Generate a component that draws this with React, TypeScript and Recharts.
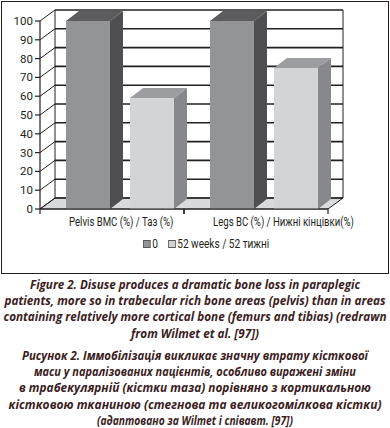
import { BarChart, Bar, XAxis, YAxis, CartesianGrid, Legend } from "recharts";

const categories = ["Pelvis BMC (%) / Таз (%)", "Legs BC (%) / Нижні кінцівки(%)"];
const baseline = [100, 100];
const week52 = [59, 75];
const yTicks = [0, 10, 20, 30, 40, 50, 60, 70, 80, 90, 100];
const seriesNames = ["0", "52 weeks / 52 тижні"];

const data = categories.map((name, i) => ({ name, base: baseline[i], w52: week52[i] }));

const FONT = "Roboto, 'Liberation Sans', Arial, sans-serif";
const CAPTION_FONT = "'Open Sans', Roboto, sans-serif";
const INK = "#231f20";

// depth of the bars and of the walls
const DX = 13;
const DY = 10;
const WX = 15;
const WY = 11;
const SHIFT = 8;

const CHART_W = 390;
const MARGIN = { top: 21, right: 62, bottom: 22, left: 0 };
const Y_W = 40;
const PLOT_W = CHART_W - MARGIN.left - MARGIN.right - Y_W;

const COLORS = {
  base: { front: "#939497", side: "#4f4f51", top: "#5c5c5f" },
  w52: { front: "#d3d4d6", side: "#87888b", top: "#9c9da0" },
};

// caption lines with the width each one fills
const captionEn = [
  { t: "Figure 2. Disuse produces a dramatic bone loss in paraplegic", w: 330 },
  { t: "patients, more so in trabecular rich bone areas (pelvis) than in areas", w: 381 },
  { t: "containing relatively more cortical bone (femurs and tibias) (redrawn", w: 383 },
  { t: "from Wilmet et al. [97])", w: 128 },
];
const captionUa = [
  { t: "Рисунок 2. Іммобілізація викликає значну втрату кісткової", w: 346 },
  { t: "маси у паралізованих пацієнтів, особливо виражені зміни", w: 322 },
  { t: "в трабекулярній (кістки таза) порівняно з кортикальною", w: 352 },
  { t: "кістковою тканиною (стегнова та великогомілкова кістки)", w: 373 },
  { t: "(адаптовано за Wilmet і співавт. [97])", w: 196 },
];

function Bar3D(props: any) {
  const { x, y, width, height, front, side, top } = props;
  const x0 = x + SHIFT;
  const x1 = x0 + width;
  const yb = y + height;
  return (
    <g>
      <polygon points={`${x1},${y} ${x1 + DX},${y - DY} ${x1 + DX},${yb - DY} ${x1},${yb}`} fill={side} />
      <polygon points={`${x0},${y} ${x0 + DX},${y - DY} ${x1 + DX},${y - DY} ${x1},${y}`} fill={top} />
      <rect x={x0} y={y} width={width} height={height} fill={front} />
    </g>
  );
}

function GridLine(props: any) {
  const { x1, y1, x2, y, height, index } = props;
  const bottom = y + height;
  const isFloor = Math.abs(y1 - bottom) < 0.5;
  const isTop = Math.abs(y1 - y) < 0.5;
  return (
    <g key={`g-${index}`}>
      {isFloor && (
        <polygon
          points={`${x1},${y1} ${x1 + WX},${y1 - WY} ${x2 + WX},${y1 - WY} ${x2},${y1}`}
          fill="#d9dadb"
          stroke={INK}
          strokeWidth={1}
        />
      )}
      {isTop && (
        <g>
          <line x1={x1 + WX} y1={y1 - WY} x2={x1 + WX} y2={bottom - WY} stroke={INK} strokeWidth={1} />
          <line x1={x2 + WX} y1={y1 - WY} x2={x2 + WX} y2={bottom - WY} stroke={INK} strokeWidth={1} />
        </g>
      )}
      <line x1={x1 + WX} y1={y1 - WY} x2={x2 + WX} y2={y1 - WY} stroke={INK} strokeWidth={1.6} />
      <line x1={x1} y1={y1} x2={x1 + WX} y2={y1 - WY} stroke={INK} strokeWidth={1} />
    </g>
  );
}

function CategoryTick(props: any) {
  const { x, y, payload } = props;
  const band = PLOT_W / categories.length;
  const start = x - band / 2;
  const end = x + band / 2;
  return (
    <g>
      <line x1={start} y1={y - 8} x2={start} y2={y - 3} stroke={INK} strokeWidth={1.2} />
      <line x1={end} y1={y - 8} x2={end} y2={y - 3} stroke={INK} strokeWidth={1.2} />
      <text
        transform={`translate(${start + 29},${y + 9}) scale(0.8,1)`}
        textAnchor="start"
        fontSize={12}
        fill={INK}
        fontFamily={FONT}
      >
        {payload.value}
      </text>
    </g>
  );
}

function LegendBox({ payload }: any) {
  return (
    <div
      style={{
        display: "flex",
        gap: 12,
        fontFamily: FONT,
        fontSize: 12,
        color: INK,
        marginLeft: 143,
        transform: "scaleX(0.84)",
        transformOrigin: "left center",
        whiteSpace: "nowrap",
      }}
    >
      {(payload ?? []).map((p: any, i: number) => (
        <div key={i} style={{ display: "flex", alignItems: "center", gap: 2 }}>
          <span
            style={{
              display: "inline-block",
              width: 7,
              height: 6,
              background: p.color,
              border: "1px solid #58595b",
            }}
          />
          <span>{p.value}</span>
        </div>
      ))}
    </div>
  );
}

function Caption({ lines, top }: { lines: { t: string; w: number }[]; top: number }) {
  return (
    <svg
      width={390}
      height={lines.length * 16 + 6}
      style={{ position: "absolute", left: 0, top, overflow: "visible" }}
    >
      {lines.map((l, i) => (
        <text
          key={i}
          x={195}
          y={12 + i * 16.2}
          textAnchor="middle"
          textLength={l.w}
          lengthAdjust="spacingAndGlyphs"
          fontFamily={CAPTION_FONT}
          fontWeight={700}
          fontStyle="italic"
          fontSize={12}
          fill="#3a1d1e"
        >
          {l.t}
        </text>
      ))}
    </svg>
  );
}

export default function App() {
  return (
    <div style={{ position: "absolute", left: 0, top: 0, width: 390, height: 428, background: "#fff" }}>
      <div
        style={{
          position: "absolute",
          left: 1,
          top: 1,
          width: 386,
          height: 271,
          border: "1.5px solid #231f20",
        }}
      />
      <div style={{ position: "absolute", left: 0, top: 0 }}>
        <BarChart width={CHART_W} height={275} data={data} margin={MARGIN} barSize={44} barGap={20}>
          <CartesianGrid horizontal={GridLine as any} vertical={false} />
          <YAxis
            width={Y_W}
            domain={[0, 100]}
            ticks={yTicks}
            interval={0}
            tickSize={5}
            tick={{ fontSize: 11.5, fill: INK, fontFamily: FONT }}
            axisLine={{ stroke: INK, strokeWidth: 1.2 }}
            tickLine={{ stroke: INK, strokeWidth: 1.2 }}
          />
          <XAxis
            dataKey="name"
            height={30}
            tick={<CategoryTick />}
            tickLine={false}
            axisLine={{ stroke: INK, strokeWidth: 1.2 }}
            interval={0}
          />
          <Legend
            content={<LegendBox />}
            wrapperStyle={{ position: "absolute", top: 237, left: 0, width: 390 }}
          />
          <Bar
            dataKey="base"
            name={seriesNames[0]}
            fill={COLORS.base.front}
            isAnimationActive={false}
            shape={(p: any) => <Bar3D {...p} {...COLORS.base} />}
          />
          <Bar
            dataKey="w52"
            name={seriesNames[1]}
            fill={COLORS.w52.front}
            isAnimationActive={false}
            shape={(p: any) => <Bar3D {...p} {...COLORS.w52} />}
          />
        </BarChart>
      </div>
      <Caption lines={captionEn} top={277} />
      <Caption lines={captionUa} top={348} />
    </div>
  );
}
